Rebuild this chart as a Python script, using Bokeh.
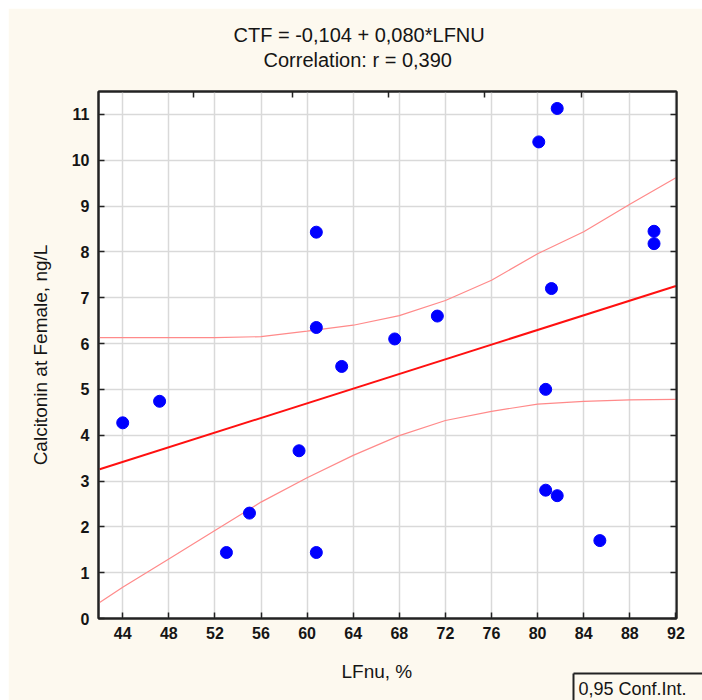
from bokeh.plotting import figure
from bokeh.models import (Range1d, LinearAxis, FixedTicker, Title, Label,
                          Spacer, Row, Column)
from bokeh.embed import file_html
from bokeh.resources import INLINE

# ---- data ----
lfnu = [44.0, 47.2, 53.0, 55.0, 59.3, 60.8, 60.8, 60.8, 63.0, 67.6,
        71.3, 80.1, 81.7, 90.1, 90.1, 81.2, 80.7, 80.7, 81.7, 85.4]
ctf = [4.27, 4.74, 1.44, 2.30, 3.66, 1.44, 8.43, 6.35, 5.50, 6.10,
       6.60, 10.40, 11.13, 8.45, 8.18, 7.20, 5.00, 2.80, 2.68, 1.70]

# regression (from the chart's title)
intercept = -0.104
slope = 0.080

# 95% confidence band
band_x = [42, 44, 48, 52, 56, 60, 64, 68, 72, 76, 80, 84, 88, 92]
band_upper = [6.13, 6.13, 6.13, 6.13, 6.15, 6.27, 6.40, 6.61, 6.94, 7.38, 7.96, 8.44, 9.04, 9.62]
band_lower = [0.35, 0.68, 1.30, 1.92, 2.54, 3.07, 3.56, 3.99, 4.32, 4.52, 4.68, 4.74, 4.77, 4.78]

x_ticks = [44, 48, 52, 56, 60, 64, 68, 72, 76, 80, 84, 88, 92]
y_ticks = [0, 1, 2, 3, 4, 5, 6, 7, 8, 9, 10, 11]
top_ticks = [50.15, 58.75, 67.1, 75.35, 83.8]

title1 = "CTF = -0,104 + 0,080*LFNU"
title2 = "Correlation: r = 0,390"
x_label = "LFnu, %"
y_label = "Calcitonin at Female, ng/L"
legend_text = "0,95 Conf.Int."

CREAM = "#fdf9ef"
FONT = "Liberation Sans"
INK = "#151515"
FRAME = "#222222"

p = figure(width=694, height=692,
           x_range=Range1d(41.9, 92.05), y_range=Range1d(0, 11.5),
           output_backend="svg", toolbar_location=None,
           min_border_left=90, min_border_right=26,
           min_border_top=83, min_border_bottom=82,
           background_fill_color="white", border_fill_color=CREAM)

p.outline_line_color = FRAME
p.outline_line_width = 2

# grids
p.xgrid.ticker = FixedTicker(ticks=x_ticks)
p.ygrid.ticker = FixedTicker(ticks=y_ticks)
for g in (p.xgrid, p.ygrid):
    g.grid_line_color = "#d9d9d9"
    g.grid_line_width = 1.5

# main axes
p.xaxis.ticker = FixedTicker(ticks=x_ticks)
p.yaxis.ticker = FixedTicker(ticks=y_ticks)
for ax in (p.xaxis[0], p.yaxis[0]):
    ax.major_tick_in = 6
    ax.major_tick_out = 0
    ax.minor_tick_line_color = None
    ax.axis_line_color = FRAME
    ax.axis_line_width = 2
    ax.major_tick_line_color = FRAME
    ax.major_tick_line_width = 1.5
    ax.major_label_text_font = FONT
    ax.major_label_text_font_size = "16px"
    ax.major_label_text_font_style = "bold"
    ax.major_label_text_color = INK
    ax.axis_label_text_font = FONT
    ax.axis_label_text_font_size = "19px"
    ax.axis_label_text_font_style = "normal"
    ax.axis_label_text_color = INK

p.yaxis.axis_label = y_label
p.xaxis.major_label_standoff = 8
p.yaxis.major_label_standoff = 9
p.yaxis.axis_label_standoff = 18

# right and top axes: ticks only (labels not drawn)
right_ax = LinearAxis(ticker=FixedTicker(ticks=y_ticks))
top_ax = LinearAxis(ticker=FixedTicker(ticks=top_ticks))
for ax in (right_ax, top_ax):
    ax.major_tick_in = 6
    ax.major_tick_out = 0
    ax.minor_tick_line_color = None
    ax.major_label_text_color = None
    ax.major_label_standoff = 0
    ax.axis_line_color = FRAME
    ax.axis_line_width = 2
    ax.major_tick_line_color = FRAME
    ax.major_tick_line_width = 1.5
p.add_layout(right_ax, "right")
p.add_layout(top_ax, "above")

# invisible spacer axis to push the titles up
gap_ax = LinearAxis(ticker=FixedTicker(ticks=top_ticks))
gap_ax.major_tick_in = 0
gap_ax.major_tick_out = 20
gap_ax.major_tick_line_color = None
gap_ax.minor_tick_line_color = None
gap_ax.axis_line_color = None
gap_ax.major_label_text_color = None
gap_ax.major_label_standoff = 0
p.add_layout(gap_ax, "above")

# titles
p.add_layout(Title(text=title2, align="left", offset=165, vertical_align="bottom", standoff=2,
                   text_font=FONT, text_font_size="20px", text_font_style="normal",
                   text_color=INK), "above")
p.add_layout(Title(text=title1, align="left", offset=135, vertical_align="bottom", standoff=0,
                   text_font=FONT, text_font_size="20px", text_font_style="normal",
                   text_color=INK), "above")

# x axis title
p.add_layout(Title(text=x_label, align="left", offset=243, vertical_align="bottom", standoff=34,
                   text_font=FONT, text_font_size="19px", text_font_style="normal",
                   text_color=INK), "below")

# confidence band and regression line
p.line(band_x, band_upper, line_color="#ff8a8a", line_width=1.2)
p.line(band_x, band_lower, line_color="#ff8a8a", line_width=1.2)
reg_x = [band_x[0], band_x[-1]]
reg_y = [intercept + slope * v for v in reg_x]
p.line(reg_x, reg_y, line_color="#ff1010", line_width=2)

# points
p.scatter(lfnu, ctf, size=12, color="#0000ff")

# legend box, cut by the picture's edge as in the reference
lg = figure(width=130, height=28, x_range=Range1d(0, 1), y_range=Range1d(0, 1),
            output_backend="svg", toolbar_location=None,
            x_axis_type=None, y_axis_type=None,
            min_border_left=1, min_border_top=1, min_border_right=0, min_border_bottom=0,
            background_fill_color=CREAM, border_fill_color=CREAM,
            outline_line_color=None, margin=(-28, 0, 0, 572))
for side in ("left", "above"):
    edge = LinearAxis(ticker=FixedTicker(ticks=[]))
    edge.major_tick_in = 0
    edge.major_tick_out = 0
    edge.major_tick_line_color = None
    edge.minor_tick_line_color = None
    edge.major_label_text_color = None
    edge.major_label_standoff = 0
    edge.axis_line_color = FRAME
    edge.axis_line_width = 2
    lg.add_layout(edge, side)
lg.add_layout(Label(x=5, y=12, x_units="screen", y_units="screen", text=legend_text,
                    text_align="left", text_baseline="middle",
                    text_font=FONT, text_font_size="18px", text_color=INK))

page = Column(Spacer(width=702, height=8),
              Row(Spacer(width=8, height=692), p),
              lg)

open("out.html", "w").write(file_html(page, INLINE))
